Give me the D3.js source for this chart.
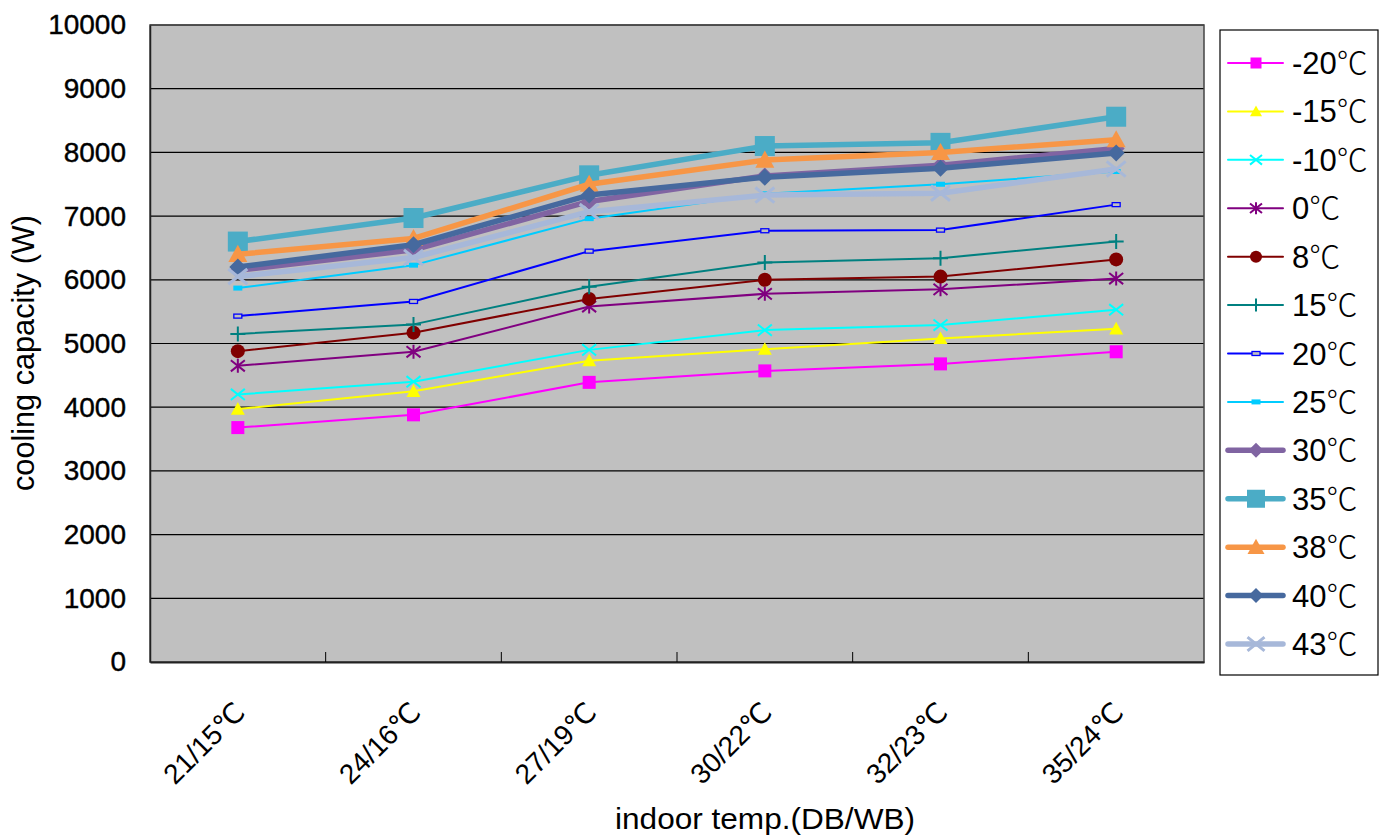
<!DOCTYPE html>
<html><head><meta charset="utf-8">
<script src="https://cdn.jsdelivr.net/npm/d3@7"></script>
<style>
html,body{margin:0;padding:0;background:#fff;}
svg text{font-family:"Liberation Sans",Arial,"DejaVu Sans",sans-serif;fill:#000;}
</style></head>
<body><svg id="c" width="1390" height="839"></svg>
<script>
const categories = ["21/15℃","24/16℃","27/19℃","30/22℃","32/23℃","35/24℃"];
const seriesNames = ["-20℃","-15℃","-10℃","0℃","8℃","15℃","20℃","25℃","30℃","35℃","38℃","40℃","43℃"];
const vM20 = [3680,3880,4390,4570,4680,4870];
const vM15 = [3970,4250,4730,4910,5080,5230];
const vM10 = [4200,4400,4900,5210,5290,5530];
const v0   = [4650,4870,5580,5780,5850,6020];
const v8   = [4880,5170,5700,6000,6050,6320];
const v15  = [5150,5300,5890,6270,6340,6600];
const v20  = [5430,5660,6450,6770,6780,7180];
const v25  = [5870,6230,6960,7350,7500,7700];
const v30  = [6150,6470,7230,7630,7800,8060];
const v35  = [6600,6970,7640,8100,8150,8560];
const v38  = [6400,6650,7500,7880,8000,8200];
const v40  = [6200,6550,7330,7610,7750,7990];
const v43  = [6050,6350,7070,7330,7360,7740];
const yTicks = [0,1000,2000,3000,4000,5000,6000,7000,8000,9000,10000];

const values = [vM20,vM15,vM10,v0,v8,v15,v20,v25,v30,v35,v38,v40,v43];
const colors = ["#FF00FF","#FFFF00","#00FFFF","#800080","#800000","#008080","#0000FF","#00CCFF","#8064A2","#4BACC6","#F79646","#46699E","#A7B8D9"];
const markers = ["square","triangle","x","star","circle","plus","hrect","dash","diamond","square","triangle","diamond","x"];
const widths = [2,2,2,2,2,2,2,2,5.5,5.5,5.5,5.5,5.5];
const msize  = [13,14,14,14,14,15,9,9,17,20,19,17,19];

const svg = d3.select("#c");
const L=150, R=1204, T=25, B=662;
const x = d3.scaleBand().domain(categories).range([L,R]);
const y = d3.scaleLinear().domain([0,10000]).range([B,T]);

svg.append("rect").attr("x",L).attr("y",T).attr("width",R-L).attr("height",B-T).attr("fill","#C0C0C0");
svg.append("g").selectAll("line").data(yTicks.filter(d=>d>0)).join("line")
  .attr("x1",L).attr("x2",R).attr("y1",d=>y(d)).attr("y2",d=>y(d))
  .attr("stroke","#000").attr("stroke-width",1.2);
svg.append("rect").attr("x",L).attr("y",T).attr("width",R-L).attr("height",B-T)
  .attr("fill","none").attr("stroke","#444").attr("stroke-width",1.5);

const ya = svg.append("g").attr("transform",`translate(${L},0)`)
  .call(d3.axisLeft(y).tickValues(yTicks).tickSize(0).tickPadding(24).tickFormat(d3.format("d")));
ya.select(".domain").attr("stroke","#222").attr("stroke-width",1.5);
ya.selectAll("text").attr("font-size",28).attr("font-family","Liberation Sans, Arial, sans-serif")
  .attr("fill","#000").attr("stroke","#000").attr("stroke-width",0.4);

const xa = svg.append("g").attr("transform",`translate(0,${B})`)
  .call(d3.axisBottom(x).tickSize(0).tickFormat(""));
xa.select(".domain").attr("stroke","#222").attr("stroke-width",2);
const sep = categories.slice(1).map(c=>x(c));
svg.append("g").selectAll("line").data(sep).join("line")
  .attr("x1",d=>d).attr("x2",d=>d).attr("y1",B-10).attr("y2",B).attr("stroke","#000").attr("stroke-width",1);
svg.append("g").selectAll("text").data(categories).join("text")
  .attr("transform",d=>`translate(${x(d)+x.bandwidth()/2+9},${B+52}) rotate(-45)`)
  .attr("text-anchor","end").attr("font-size",28).text(d=>d);

svg.append("text").attr("x",765).attr("y",829).attr("text-anchor","middle")
  .attr("font-size",30).attr("textLength",300).attr("lengthAdjust","spacingAndGlyphs").text("indoor temp.(DB/WB)");
svg.append("text").attr("transform",`translate(34,353) rotate(-90)`).attr("text-anchor","middle")
  .attr("font-size",31).attr("textLength",276).attr("lengthAdjust","spacingAndGlyphs").text("cooling capacity (W)");

function drawMarker(g, type, cx, cy, s, color){
  const h=s/2;
  if(type==="square"){
    g.append("rect").attr("x",cx-h).attr("y",cy-h).attr("width",s).attr("height",s).attr("fill",color);
  } else if(type==="triangle"){
    g.append("path").attr("d",`M${cx},${cy-h}L${cx+h},${cy+h*0.8}L${cx-h},${cy+h*0.8}Z`).attr("fill",color);
  } else if(type==="diamond"){
    g.append("path").attr("d",`M${cx},${cy-h}L${cx+h},${cy}L${cx},${cy+h}L${cx-h},${cy}Z`).attr("fill",color);
  } else if(type==="circle"){
    g.append("circle").attr("cx",cx).attr("cy",cy).attr("r",h).attr("fill",color);
  } else if(type==="x"){
    g.append("path").attr("d",`M${cx-h},${cy-h*0.8}L${cx+h},${cy+h*0.8}M${cx-h},${cy+h*0.8}L${cx+h},${cy-h*0.8}`)
      .attr("stroke",color).attr("stroke-width",s>15?3:2).attr("fill","none");
  } else if(type==="star"){
    g.append("path").attr("d",`M${cx-h},${cy-h*0.8}L${cx+h},${cy+h*0.8}M${cx-h},${cy+h*0.8}L${cx+h},${cy-h*0.8}M${cx},${cy-h}L${cx},${cy+h}`)
      .attr("stroke",color).attr("stroke-width",2).attr("fill","none");
  } else if(type==="plus"){
    g.append("path").attr("d",`M${cx-h},${cy}L${cx+h},${cy}M${cx},${cy-h}L${cx},${cy+h}`)
      .attr("stroke",color).attr("stroke-width",2).attr("fill","none");
  } else if(type==="hrect"){
    g.append("rect").attr("x",cx-4).attr("y",cy-2).attr("width",8).attr("height",4).attr("fill","#C0C0C0").attr("stroke",color).attr("stroke-width",1.3);
  } else if(type==="dash"){
    g.append("rect").attr("x",cx-4.5).attr("y",cy-2.5).attr("width",9).attr("height",5).attr("fill",color);
  }
}

const line = d3.line().x((d,i)=>x(categories[i])+x.bandwidth()/2).y(d=>y(d));
const plot = svg.append("g");
values.forEach((vals,k)=>{
  const g = plot.append("g");
  g.append("path").datum(vals).attr("d",line).attr("fill","none")
    .attr("stroke",colors[k]).attr("stroke-width",widths[k]).attr("stroke-linejoin","round");
  vals.forEach((v,i)=>drawMarker(g, markers[k], x(categories[i])+x.bandwidth()/2, y(v), msize[k], colors[k]));
});

const lg = svg.append("g");
lg.append("rect").attr("x",1220).attr("y",30).attr("width",158).attr("height",645)
  .attr("fill","#fff").attr("stroke","#000").attr("stroke-width",1.2);
const ly = d3.scalePoint().domain(seriesNames).range([63,644]);
seriesNames.forEach((n,k)=>{
  const cy = ly(n);
  lg.append("line").attr("x1",1228).attr("x2",1283).attr("y1",cy).attr("y2",cy)
    .attr("stroke",colors[k]).attr("stroke-width",widths[k]).attr("stroke-linecap","round");
  drawMarker(lg, markers[k], 1256, cy, msize[k]-2, colors[k]);
  const t = lg.append("text").attr("x",1292).attr("y",cy+11).attr("font-size",31);
  t.append("tspan").attr("font-family","Liberation Sans, Arial, sans-serif").text(n.slice(0,-1));
  t.append("tspan").attr("font-family","Noto Sans CJK SC, sans-serif").attr("font-weight",300).text(n.slice(-1));
});
</script></body></html>
